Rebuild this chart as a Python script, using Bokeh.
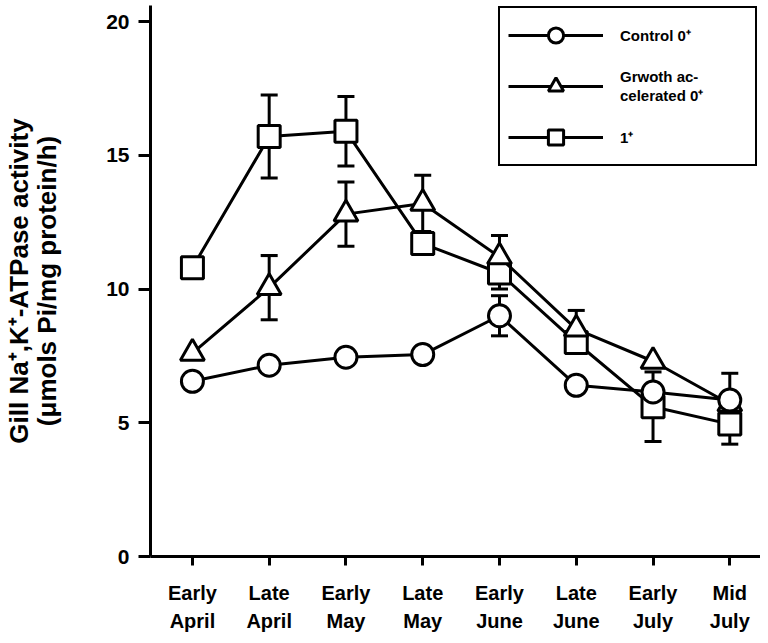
from bokeh.plotting import figure
from bokeh.models import Range1d, FixedTicker, Whisker, ColumnDataSource, Legend, LegendItem, TeeHead
from bokeh.embed import file_html
from bokeh.resources import INLINE

periods = ["Early\nApril", "Late\nApril", "Early\nMay", "Late\nMay",
           "Early\nJune", "Late\nJune", "Early\nJuly", "Mid\nJuly"]

control = [6.55, 7.15, 7.45, 7.55, 9.0, 6.4, 6.15, 5.85]
control_err = [0, 0, 0, 0, 0.75, 0, 0, 1.0]

growth = [7.6, 10.05, 12.8, 13.2, 11.2, 8.5, 7.3, 5.7]
growth_err = [0, 1.2, 1.2, 1.05, 0.8, 0.7, 0, 0]

one_plus = [10.8, 15.7, 15.9, 11.7, 10.6, 8.0, 5.6, 4.95]
one_plus_err = [0, 1.55, 1.3, 0, 0.6, 0, 1.3, 0.75]

y_ticks = [0, 5, 10, 15, 20]

FONT = "Liberation Sans"
x = list(range(1, len(periods) + 1))

p = figure(width=760, height=640, output_backend="svg", toolbar_location=None,
           x_range=Range1d(0.454, 8.4), y_range=Range1d(0, 20.6),
           min_border_left=149, min_border_right=0, min_border_top=5, min_border_bottom=84)
p.grid.visible = False
p.outline_line_color = None
p.background_fill_color = "white"

xa = p.xaxis[0]
xa.ticker = FixedTicker(ticks=x)
xa.major_label_overrides = {i: lab for i, lab in zip(x, periods)}
xa.axis_line_width = 3
xa.major_tick_line_width = 3
xa.major_tick_out = 9
xa.major_tick_in = 0
xa.minor_tick_line_color = None
xa.major_label_text_font = FONT
xa.major_label_text_font_style = "bold"
xa.major_label_text_font_size = "20px"
xa.major_label_text_line_height = 1.3
xa.major_label_standoff = 16
xa.major_label_text_color = "black"

ya = p.yaxis[0]
ya.ticker = FixedTicker(ticks=y_ticks)
ya.axis_line_width = 3
ya.major_tick_line_width = 3
ya.major_tick_out = 12
ya.major_tick_in = 0
ya.minor_tick_line_color = None
ya.major_label_text_font = FONT
ya.major_label_text_font_style = "bold"
ya.major_label_text_font_size = "21px"
ya.major_label_standoff = 9
ya.major_label_text_color = "black"
ya.axis_label = "Gill Na\u207a,K\u207a-ATPase activity\n(\u03bcmols Pi/mg protein/h)"
ya.axis_label_text_font = FONT
ya.axis_label_text_font_style = "bold"
ya.axis_label_text_font_size = "26px"
ya.axis_label_text_line_height = 0.95
ya.axis_label_standoff = 41
ya.axis_label_text_color = "black"


def add_errors(vals, errs):
    xs = [xi for xi, e in zip(x, errs) if e > 0]
    up = [v + e for v, e in zip(vals, errs) if e > 0]
    lo = [v - e for v, e in zip(vals, errs) if e > 0]
    src = ColumnDataSource(dict(base=xs, upper=up, lower=lo))
    w = Whisker(source=src, base="base", upper="upper", lower="lower",
                line_width=3, line_color="black",
                upper_head=TeeHead(size=17, line_width=3, line_color="black"),
                lower_head=TeeHead(size=17, line_width=3, line_color="black"),
                level="underlay")
    p.add_layout(w)


labels = ["Control 0\u207a", "Grwoth ac-\ncelerated 0\u207a", "1\u207a"]

series = [
    (labels[2], one_plus, one_plus_err, "square", 22),
    (labels[1], growth, growth_err, "triangle", 24),
    (labels[0], control, control_err, "circle", 22),
]

items = {}
for label, vals, errs, marker, size in series:
    add_errors(vals, errs)
    lr = p.line(x, vals, line_width=3, line_color="black")
    mr = p.scatter(x, vals, marker=marker, size=size, fill_color="white",
                   line_color="black", line_width=3)
    items[label] = LegendItem(label=label, renderers=[lr, mr])

legend = Legend(items=[items[l] for l in labels],
                location=(348, 390), orientation="vertical",
                border_line_color="black", border_line_width=2.5, border_line_alpha=1,
                background_fill_color="white", background_fill_alpha=1,
                padding=8, spacing=13, margin=0,
                glyph_width=95, glyph_height=38, label_standoff=17, label_width=127,
                label_text_font=FONT, label_text_font_style="bold",
                label_text_font_size="15px", label_text_color="black")
p.add_layout(legend, "center")

open("out.html", "w").write(file_html(p, INLINE))
